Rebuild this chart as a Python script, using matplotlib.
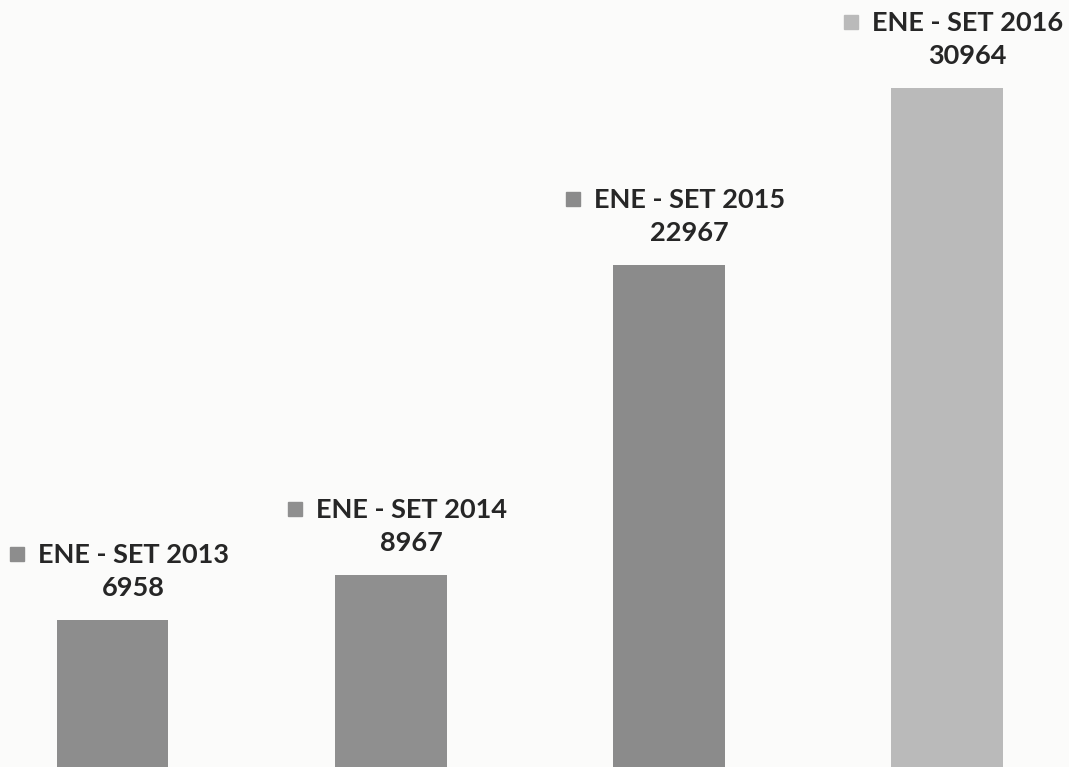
import matplotlib
matplotlib.use("Agg")
import matplotlib.pyplot as plt
from matplotlib.transforms import offset_copy

# data
periods = ["ENE - SET 2013", "ENE - SET 2014", "ENE - SET 2015", "ENE - SET 2016"]
values = [6958, 8967, 22967, 30964]
bar_colors = ["#8d8d8d", "#8f8f8f", "#8b8b8b", "#bababa"]

dpi = 100
fig = plt.figure(figsize=(10.69, 7.67), dpi=dpi, facecolor="#fbfbfa")
ax = fig.add_axes([0, 0, 1, 1])
ax.set_facecolor("#fbfbfa")

x = list(range(len(values)))
ax.bar(x, values, width=0.40, color=bar_colors, linewidth=0)

ax.set_xlim(-0.406, 3.439)
ax.set_ylim(316, 34936)
ax.axis("off")

px = 72 / dpi  # pixels -> points
txt_kw = dict(fontfamily="Lato", fontweight="bold", fontsize=19.5, color="#262626",
              ha="center", va="baseline")

for xi, v, lab, c in zip(x, values, periods, bar_colors):
    # value line
    ax.annotate(f"{v}", xy=(xi, v), xytext=(20 * px, 24 * px),
                textcoords="offset points", **txt_kw)
    # period line
    ax.annotate(lab, xy=(xi, v), xytext=(21 * px, 57 * px),
                textcoords="offset points", **txt_kw)
    # legend key square
    tr = offset_copy(ax.transData, fig=fig, x=-96 * px, y=66 * px, units="points")
    ax.plot([xi], [v], marker="s", markersize=10, color=c, transform=tr,
            clip_on=False)

fig.savefig("out.png", dpi=dpi, facecolor=fig.get_facecolor())
